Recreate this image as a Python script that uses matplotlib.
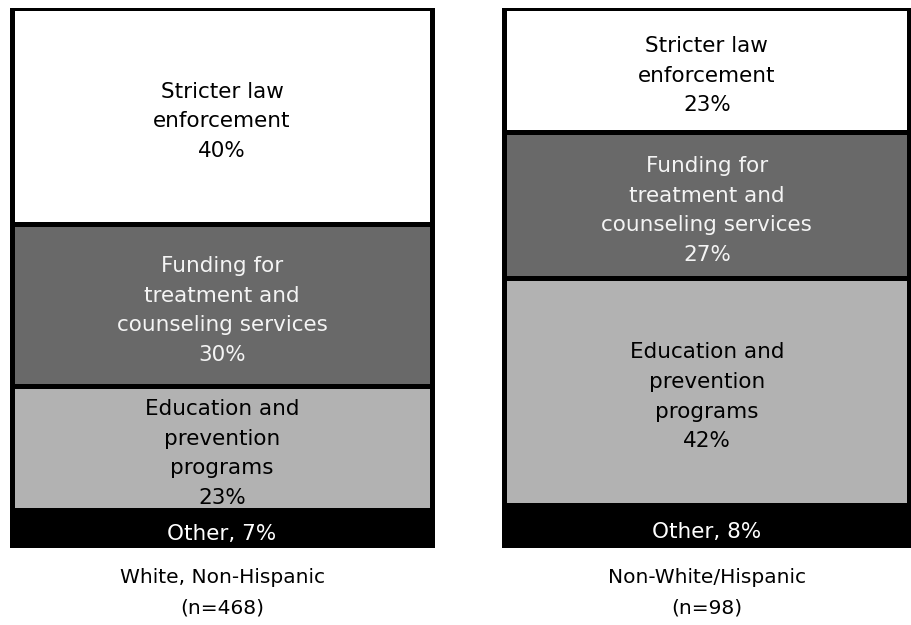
import matplotlib.pyplot as plt
import numpy as np

groups = ["White, Non-Hispanic", "Non-White/Hispanic"]
sample_sizes = [468, 98]

# stacked from the bottom up
categories = ["Other", "Education and\nprevention\nprograms",
              "Funding for\ntreatment and\ncounseling services",
              "Stricter law\nenforcement"]
other = [7, 8]
education = [23, 42]
funding = [30, 27]
stricter = [40, 23]

colors = ["#000000", "#b2b2b2", "#696969", "#ffffff"]
text_colors = ["#ffffff", "#000000", "#f4f4f4", "#000000"]

x = np.array([0, 1])
widths = [0.868, 0.835]

fig = plt.figure(figsize=(9.12, 6.25), dpi=100)
ax = fig.add_axes([0, 77 / 625, 1, 540 / 625])

values = [other, education, funding, stricter]
bottom = np.zeros(2)
for i, (vals, col, tcol) in enumerate(zip(values, colors, text_colors)):
    vals = np.array(vals, dtype=float)
    ax.bar(x, vals, width=widths, bottom=bottom, color=col,
           edgecolor="black", linewidth=3.6)
    for j in range(2):
        if i == 0:
            label = f"{categories[i]}, {int(vals[j])}%"
        else:
            label = f"{categories[i]}\n{int(vals[j])}%"
        ax.text(x[j], bottom[j] + vals[j] / 2 - 1.0, label, ha="center",
                va="center", color=tcol, fontsize=15.5, linespacing=1.6)
    bottom += vals

for j in range(2):
    ax.text(x[j], -5.4, groups[j], ha="center", va="center",
            fontsize=14.5, clip_on=False)
    ax.text(x[j], -11.1, f"(n={sample_sizes[j]})", ha="center",
            va="center", fontsize=14.5, clip_on=False)

ax.set_xlim(-0.458, 1.423)
ax.set_ylim(0, 100)
ax.axis("off")

fig.savefig("out.png", dpi=100)
